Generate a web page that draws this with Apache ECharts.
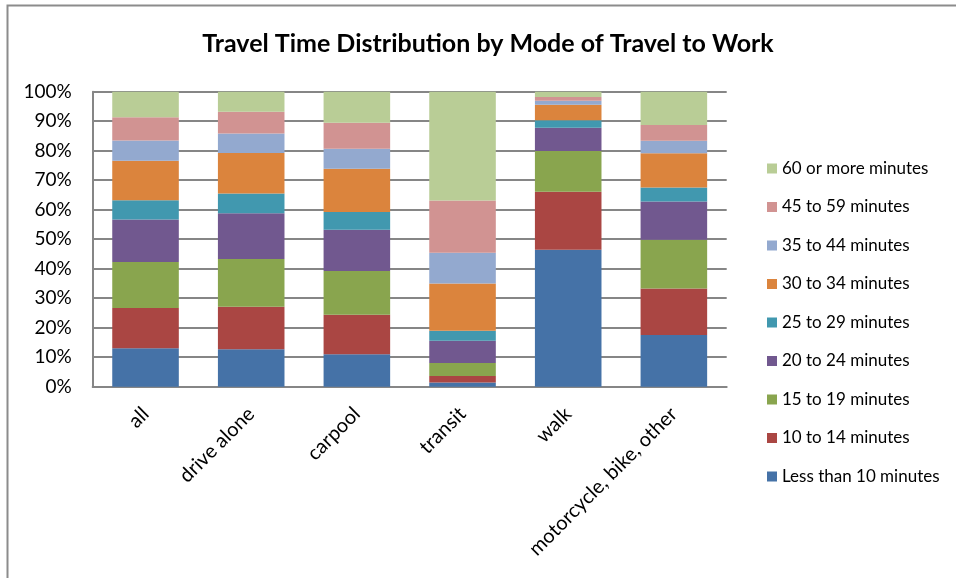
<!DOCTYPE html>
<html>
<head>
<meta charset="utf-8">
<script src="https://cdn.jsdelivr.net/npm/echarts@6/dist/echarts.min.js"></script>
<style>
  html, body { margin: 0; padding: 0; background: #fff; }
  #chart { width: 956px; height: 578px; }
</style>
</head>
<body>
<div id="chart"></div>
<script>
// categories (modes of travel)
const modes = ["all", "drive alone", "carpool", "transit", "walk", "motorcycle, bike, other"];

// share of workers in each travel time band, percent
const lessThan10 = [13.0, 12.7, 11.0, 1.4, 46.4, 17.5];
const min10to14 = [13.7, 14.4, 13.4, 2.2, 19.7, 15.8];
const min15to19 = [15.6, 16.2, 14.8, 4.4, 13.8, 16.5];
const min20to24 = [14.4, 15.5, 14.0, 7.6, 7.9, 13.0];
const min25to29 = [6.5, 6.7, 6.0, 3.4, 2.5, 4.7];
const min30to34 = [13.4, 13.7, 14.7, 16.0, 5.3, 11.6];
const min35to44 = [6.9, 6.6, 6.8, 10.4, 1.3, 4.3];
const min45to59 = [7.8, 7.4, 8.8, 17.7, 1.3, 5.3];
const min60plus = [8.7, 6.8, 10.5, 36.9, 1.8, 11.3];

const bandNames = [
  "Less than 10 minutes", "10 to 14 minutes", "15 to 19 minutes",
  "20 to 24 minutes", "25 to 29 minutes", "30 to 34 minutes",
  "35 to 44 minutes", "45 to 59 minutes", "60 or more minutes"
];
const bandValues = [lessThan10, min10to14, min15to19, min20to24, min25to29,
  min30to34, min35to44, min45to59, min60plus];

const yTicks = [0, 10, 20, 30, 40, 50, 60, 70, 80, 90, 100];

const colors = ["#4572A7", "#AA4643", "#89A54E", "#71588F", "#4198AF",
  "#DB843D", "#93A9CF", "#D19392", "#B9CD96"];

const font = "Lato, 'Liberation Sans', sans-serif";

let myChart = echarts.init(document.getElementById("chart"));

let series = bandNames.map(function (name, i) {
  return {
    name: name,
    type: "bar",
    stack: "total",
    barCategoryGap: "37%",
    itemStyle: { color: colors[i] },
    data: bandValues[i],
  };
});

let option = {
  animation: false,
  color: colors,
  textStyle: { fontFamily: font },
  title: {
    text: "Travel Time Distribution by Mode of Travel to Work",
    left: 483,
    top: 26,
    textAlign: "center",
    textStyle: { fontFamily: font, fontSize: 25, fontWeight: "bold", color: "#000" },
  },
  legend: {
    orient: "vertical",
    left: 767,
    top: 160,
    padding: 0,
    itemWidth: 10,
    itemHeight: 10,
    itemGap: 21.5,
    icon: "rect",
    data: bandNames.slice().reverse(),
    textStyle: { fontFamily: font, fontSize: 17, color: "#000", lineHeight: 15 },
  },
  grid: {
    left: 92.7,
    right: 229.3,
    top: 91.7,
    bottom: 191.3,
    containLabel: false,
  },
  xAxis: {
    type: "category",
    data: modes,
    axisLine: { lineStyle: { color: "#868686", width: 2 } },
    axisTick: { show: false },
    axisLabel: {
      rotate: 45,
      interval: 0,
      margin: 24,
      fontSize: 20,
      color: "#000",
      fontFamily: font,
    },
  },
  yAxis: {
    type: "value",
    min: yTicks[0],
    max: yTicks[yTicks.length - 1],
    interval: 10,
    axisLine: { show: true, lineStyle: { color: "#868686", width: 2 } },
    axisTick: { show: false },
    splitLine: { lineStyle: { color: "#868686", width: 2 } },
    axisLabel: {
      margin: 21,
      fontSize: 19,
      color: "#000",
      fontFamily: font,
      formatter: "{value}%",
    },
  },
  graphic: [{
    type: "rect",
    shape: { x: 7.5, y: 5.5, width: 1000, height: 600 },
    style: { fill: "none", stroke: "#8c8c8c", lineWidth: 2 },
    silent: true,
  }],
  series: series,
};

myChart.setOption(option);
</script>
</body>
</html>
